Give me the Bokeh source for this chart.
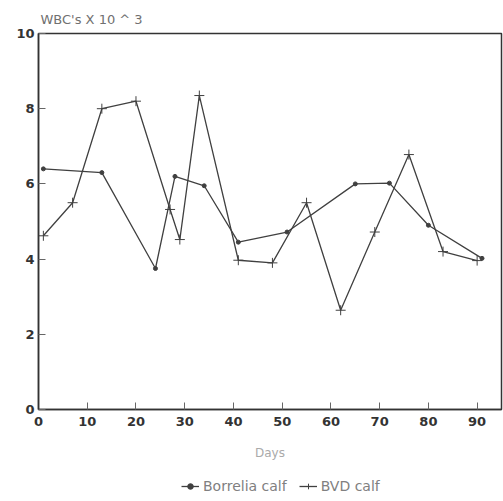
from bokeh.plotting import figure
from bokeh.layouts import column
from bokeh.models import Legend, LegendItem, Range1d, FixedTicker
from bokeh.embed import file_html
from bokeh.resources import INLINE

borrelia_days = [1, 13, 24, 28, 34, 41, 51, 65, 72, 80, 91]
borrelia_wbc = [6.4, 6.3, 3.75, 6.2, 5.95, 4.45, 4.72, 6.0, 6.02, 4.9, 4.02]

bvd_days = [1, 7, 13, 20, 27, 29, 33, 41, 48, 55, 62, 69, 76, 83, 90]
bvd_wbc = [4.62, 5.5, 8.0, 8.2, 5.32, 4.52, 8.35, 3.97, 3.9, 5.5, 2.64, 4.72, 6.78, 4.2, 3.96]

x_ticks = [0, 10, 20, 30, 40, 50, 60, 70, 80, 90]
y_ticks = [0, 2, 4, 6, 8, 10]
series_names = ["Borrelia calf", "BVD calf"]

FONT = "DejaVu Sans"
LINE = "#404040"

p = figure(width=503, height=470, output_backend="svg", toolbar_location=None,
           x_range=Range1d(0, 95), y_range=Range1d(0, 10),
           min_border_left=38, min_border_right=2, min_border_top=33, min_border_bottom=61)

p.title.text = "WBC's X 10 ^ 3"
p.title.text_font = FONT
p.title.text_font_style = "normal"
p.title.text_font_size = "13px"
p.title.text_color = "#707070"
p.title.offset = 2
p.title.standoff = 13

p.grid.visible = False
p.background_fill_color = "white"
p.border_fill_color = "white"
p.outline_line_color = "#333333"
p.outline_line_width = 1.5

for ax in (p.xaxis[0], p.yaxis[0]):
    ax.axis_line_color = "#333333"
    ax.axis_line_width = 1.5
    ax.major_tick_in = 7
    ax.major_tick_out = 0
    ax.major_tick_line_color = "#666666"
    ax.minor_tick_line_color = None
    ax.major_label_text_font = FONT
    ax.major_label_text_font_style = "bold"
    ax.major_label_text_font_size = "13px"
    ax.major_label_text_color = "#333333"

p.xaxis.ticker = FixedTicker(ticks=x_ticks)
p.yaxis.ticker = FixedTicker(ticks=y_ticks)
p.xaxis.major_label_standoff = 7
p.yaxis.major_label_standoff = 4
p.xaxis.axis_label = "Days"
p.xaxis.axis_label_text_font = FONT
p.xaxis.axis_label_text_font_style = "normal"
p.xaxis.axis_label_text_font_size = "12px"
p.xaxis.axis_label_text_color = "#aaaaaa"
p.xaxis.axis_label_standoff = 17

p.line(borrelia_days, borrelia_wbc, line_color=LINE, line_width=1.3)
p.scatter(borrelia_days, borrelia_wbc, marker="circle", size=4,
          fill_color=LINE, line_color=LINE)
p.line(bvd_days, bvd_wbc, line_color=LINE, line_width=1.3)
p.scatter(bvd_days, bvd_wbc, marker="cross", size=10,
          line_color=LINE, line_width=1)

# legend strip below the chart (proxy renderers lie outside its visible range)
q = figure(width=503, height=31, output_backend="svg", toolbar_location=None,
           x_range=Range1d(0, 1), y_range=Range1d(0, 1),
           min_border_left=0, min_border_right=0, min_border_top=0, min_border_bottom=0)
q.axis.visible = False
q.grid.visible = False
q.outline_line_color = None
proxy = [-5, -4]
ql1 = q.line(x=proxy, y=proxy, line_color=LINE, line_width=1.3)
qm1 = q.scatter(x=proxy, y=proxy, marker="circle", size=4, fill_color=LINE, line_color=LINE)
ql2 = q.line(x=proxy, y=proxy, line_color=LINE, line_width=1.3)
qm2 = q.scatter(x=proxy, y=proxy, marker="cross", size=10, line_color=LINE, line_width=1)

legend = Legend(items=[LegendItem(label=series_names[0], renderers=[ql1, qm1]),
                       LegendItem(label=series_names[1], renderers=[ql2, qm2])],
                orientation="horizontal", location=(143, 7),
                label_text_font=FONT, label_text_font_size="14px",
                label_text_color="#808080", border_line_color=None,
                background_fill_alpha=0, glyph_height=14, label_height=14,
                glyph_width=18, label_standoff=4, spacing=12,
                padding=0, margin=0)
q.add_layout(legend, "center")

layout = column(p, q, spacing=0)
open("out.html", "w").write(file_html(layout, INLINE))
